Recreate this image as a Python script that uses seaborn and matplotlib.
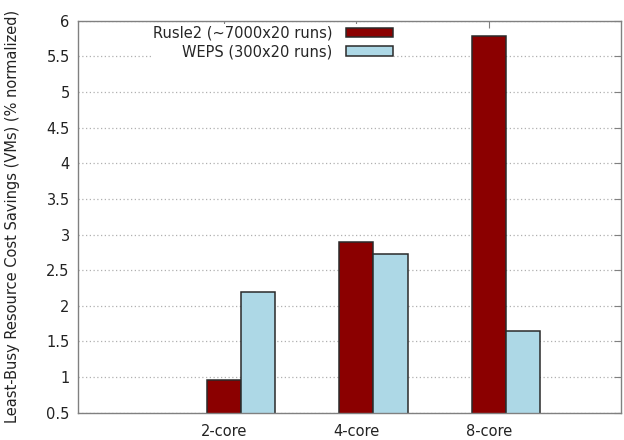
import pandas as pd
import matplotlib
matplotlib.use("Agg")
import matplotlib.pyplot as plt
import seaborn as sns

# values
categories = ["2-core", "4-core", "8-core"]
series_names = ["Rusle2 (~7000x20 runs)", "WEPS (300x20 runs)"]
rusle2_values = [0.96, 2.89, 5.78]
weps_values = [2.19, 2.73, 1.65]
y_ticks = [0.5, 1, 1.5, 2, 2.5, 3, 3.5, 4, 4.5, 5, 5.5, 6]
y_label = "Least-Busy Resource Cost Savings (VMs) (% normalized)"

df = pd.DataFrame({
    "config": categories * 2,
    "series": [series_names[0]] * 3 + [series_names[1]] * 3,
    "savings": rusle2_values + weps_values,
})

sns.set_style("white")
plt.rcParams["font.family"] = ["DejaVu Sans"]

fig = plt.figure(figsize=(6.24, 4.4), dpi=100)
ax = fig.add_axes([78 / 624, 1 - 412.7 / 440, 543 / 624, 392 / 440])

bar_width = 0.515
sns.barplot(data=df, x="config", y="savings", hue="series", order=categories,
            hue_order=series_names, palette=["#8b0000", "#add8e6"],
            saturation=1, width=bar_width, edgecolor="#2a2a2a",
            linewidth=1.1, ax=ax)

ax.set_ylim(0.5, 6)
ax.set_xlim(-1.226, 2.865)
ax.set_yticks(y_ticks, [f"{t:g}" for t in y_ticks])
# gnuplot put the category tics under the first bar of each cluster
ax.set_xticks([i - bar_width / 4 for i in range(len(categories))], categories)
ax.set_xlabel("")
ax.set_ylabel(y_label, fontsize=10.5, color="#222222", labelpad=19)

ax.yaxis.grid(True, linestyle=(0, (1, 2)), color="#b0b0b0", linewidth=0.9)
ax.set_axisbelow(True)
ax.tick_params(direction="in", length=5, width=0.8, color="#808080",
               labelsize=10.5, labelcolor="#222222", top=True, right=True,
               pad=6)
ax.tick_params(axis="x", pad=8)
for sp in ax.spines.values():
    sp.set_color("#808080")
    sp.set_linewidth(1.0)

leg = ax.legend(loc="upper right", bbox_to_anchor=(394 / 624, 1 - 24.5 / 440),
                bbox_transform=fig.transFigure, frameon=True, fontsize=10.5,
                markerfirst=False, handlelength=3.2, handleheight=0.6,
                handletextpad=0.9, labelspacing=0.22, borderpad=0.1,
                borderaxespad=0, fancybox=False, framealpha=1)
leg.get_frame().set_edgecolor("none")
leg.get_frame().set_facecolor("white")

fig.savefig("out.png", dpi=100)
